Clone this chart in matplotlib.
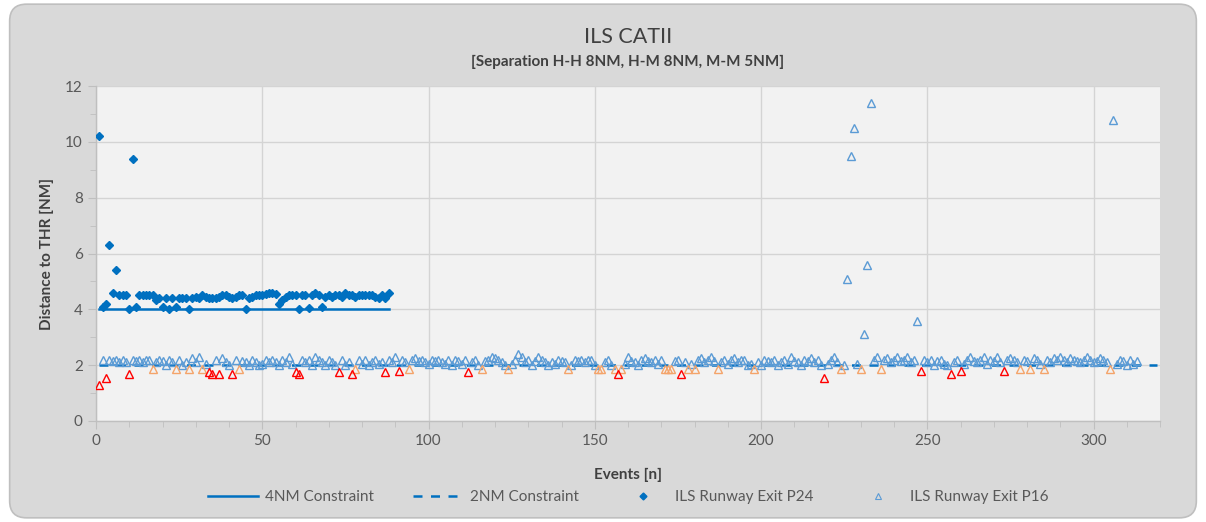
import matplotlib
matplotlib.use('Agg')
import matplotlib.pyplot as plt
from matplotlib.patches import FancyBboxPatch
from matplotlib.lines import Line2D
from matplotlib.ticker import MultipleLocator

plt.rcParams['font.family'] = ['Lato', 'DejaVu Sans']

# ILS Runway Exit P24 (events 1..88)
p24 = [10.2, 4.1, 4.2, 6.3, 4.6, 5.4, 4.5, 4.5, 4.5, 4.0,
       9.4, 4.1, 4.5, 4.5, 4.5, 4.5, 4.5, 4.35, 4.4, 4.1,
       4.4, 4.0, 4.4, 4.1, 4.4, 4.4, 4.4, 4.0, 4.4, 4.45,
       4.4, 4.5, 4.45, 4.4, 4.4, 4.4, 4.45, 4.5, 4.5, 4.45,
       4.4, 4.45, 4.5, 4.5, 4.0, 4.4, 4.45, 4.5, 4.5, 4.5,
       4.55, 4.6, 4.6, 4.55, 4.2, 4.35, 4.45, 4.5, 4.5, 4.5,
       4.0, 4.5, 4.5, 4.05, 4.5, 4.6, 4.5, 4.1, 4.45, 4.5,
       4.45, 4.5, 4.5, 4.45, 4.6, 4.5, 4.5, 4.45, 4.5, 4.5,
       4.5, 4.5, 4.5, 4.45, 4.4, 4.5, 4.4, 4.6]

# ILS Runway Exit P16 (events 1..313)
p16 = [1.3, 2.2, 1.55, 2.2, 2.15, 2.2, 2.1, 2.2, 2.1, 1.7,
       2.2, 2.15, 2.2, 2.1, 2.2, 2.2, 1.88, 2.1, 2.2, 2.15,
       2.0, 2.2, 2.1, 1.88, 2.2, 2.0, 2.1, 1.88, 2.25, 2.1,
       2.3, 1.88, 2.05, 1.75, 1.7, 2.2, 1.7, 2.25, 2.1, 2.0,
       1.7, 2.2, 1.88, 2.15, 2.1, 2.0, 2.2, 2.1, 2.0, 2.05,
       2.2, 2.1, 2.2, 2.1, 2.0, 2.2, 2.1, 2.3, 2.05, 1.75,
       1.7, 2.2, 2.1, 2.2, 2.0, 2.3, 2.2, 2.1, 2.0, 2.2,
       2.1, 2.0, 1.75, 2.2, 2.0, 2.1, 1.7, 1.88, 2.2, 2.05,
       2.2, 2.0, 2.1, 2.2, 2.05, 2.1, 1.75, 2.2, 2.1, 2.3,
       1.8, 2.2, 2.1, 1.88, 2.2, 2.25, 2.15, 2.2, 2.1, 2.05,
       2.2, 2.15, 2.2, 2.1, 2.05, 2.2, 2.0, 2.2, 2.15, 2.05,
       2.2, 1.75, 2.1, 2.2, 2.0, 1.88, 2.15, 2.2, 2.3, 2.25,
       2.2, 2.1, 2.0, 1.88, 2.05, 2.2, 2.4, 2.3, 2.1, 2.2,
       2.0, 2.15, 2.3, 2.2, 2.1, 2.0, 2.1, 2.05, 2.2, 2.15,
       2.1, 1.88, 2.0, 2.2, 2.15, 2.2, 2.1, 2.2, 2.2, 2.0,
       1.88, 1.88, 2.1, 2.2, 2.0, 1.88, 1.7, 1.88, 2.05, 2.3,
       2.15, 2.1, 2.0, 2.2, 2.25, 2.15, 2.1, 2.2, 2.05, 2.2,
       1.88, 1.88, 1.88, 2.15, 2.2, 1.7, 2.1, 1.88, 2.05, 1.88,
       2.2, 2.25, 2.1, 2.2, 2.3, 2.15, 1.88, 2.1, 2.2, 2.05,
       2.2, 2.25, 2.1, 2.2, 2.2, 2.0, 2.05, 1.88, 2.1, 2.0,
       2.2, 2.15, 2.1, 2.2, 2.0, 2.1, 2.2, 2.05, 2.3, 2.15,
       2.1, 2.0, 2.2, 2.15, 2.25, 2.1, 2.2, 2.0, 1.55, 2.05,
       2.2, 2.3, 2.1, 1.88, 2.0, 5.1, 9.5, 10.5, 2.05, 1.88,
       3.1, 5.6, 11.4, 2.2, 2.3, 1.88, 2.2, 2.25, 2.1, 2.2,
       2.3, 2.15, 2.2, 2.3, 2.1, 2.2, 3.6, 1.8, 2.2, 2.1,
       2.2, 2.0, 2.15, 2.2, 2.05, 2.0, 1.7, 2.1, 2.2, 1.8,
       2.05, 2.2, 2.3, 2.15, 2.1, 2.2, 2.3, 2.05, 2.2, 2.15,
       2.3, 2.1, 1.8, 2.2, 2.25, 2.2, 2.1, 1.88, 2.2, 2.15,
       1.88, 2.25, 2.2, 2.05, 1.88, 2.2, 2.1, 2.25, 2.2, 2.3,
       2.2, 2.1, 2.25, 2.2, 2.15, 2.1, 2.2, 2.3, 2.2, 2.1,
       2.15, 2.25, 2.2, 2.1, 1.88, 10.8, 2.05, 2.2, 2.15, 2.0,
       2.2, 2.05, 2.15]

con4_events = [1, len(p24)]
con4_value = 4
con2_events = [1, 319]
con2_value = 2

x24 = list(range(1, len(p24) + 1))
x16 = list(range(1, len(p16) + 1))

# P16 points are coloured by how far below the 2NM constraint they are
RedLim = 1.85
OrangeLim = 1.95
Blue = ([x for x, v in zip(x16, p16) if v >= OrangeLim], [v for v in p16 if v >= OrangeLim])
Orange = ([x for x, v in zip(x16, p16) if RedLim <= v < OrangeLim], [v for v in p16 if RedLim <= v < OrangeLim])
Red = ([x for x, v in zip(x16, p16) if v < RedLim], [v for v in p16 if v < RedLim])

LineBlue = '#0070C0'
TriBlue = '#5B9BD5'

Fig = plt.figure(figsize=(12.06, 5.22), dpi=100, facecolor='white')
Bg = FancyBboxPatch((0.008, 0.008), 0.984, 0.984, boxstyle='round,pad=0,rounding_size=0.014',
                    transform=Fig.transFigure, facecolor='#D9D9D9', edgecolor='#BFBFBF', lw=1.2,
                    mutation_aspect=1206 / 522, zorder=-10)
Fig.add_artist(Bg)

Ax = Fig.add_axes([96 / 1206, 1 - 421 / 522, (1160 - 96) / 1206, (421 - 86) / 522])
Ax.set_zorder(1)
Ax.set_facecolor('#F2F2F2')

Ax.plot(con4_events, [con4_value] * 2, color=LineBlue, lw=1.8, zorder=3)
Ax.plot(con2_events, [con2_value] * 2, color=LineBlue, lw=1.8, dashes=(3.6, 3.4), zorder=3)
Ax.plot(x24, p24, ls='none', marker='D', ms=4.0, color=LineBlue, zorder=4)
Ax.plot(Blue[0], Blue[1], ls='none', marker='^', ms=6, mfc='none', mec=TriBlue, mew=1.0, zorder=4)
Ax.plot(Orange[0], Orange[1], ls='none', marker='^', ms=6, mfc='none', mec='#F4A46A', mew=1.0, zorder=4)
Ax.plot(Red[0], Red[1], ls='none', marker='^', ms=6, mfc='none', mec='#FF0000', mew=1.0, zorder=4)

Ax.set_xlim(0, 320)
Ax.set_ylim(0, 12)
Ax.xaxis.set_major_locator(MultipleLocator(50))
Ax.xaxis.set_minor_locator(MultipleLocator(10))
Ax.yaxis.set_major_locator(MultipleLocator(2))
Ax.yaxis.set_minor_locator(MultipleLocator(1))
Ax.grid(True, which='major', color='#D4D4D4', lw=1.0, zorder=0)
Ax.set_axisbelow(True)
for S in ['top', 'right']:
    Ax.spines[S].set_visible(False)
for S in ['left', 'bottom']:
    Ax.spines[S].set_color('#BFBFBF')
    Ax.spines[S].set_linewidth(1.0)
Ax.tick_params(which='major', direction='out', length=6, color='#BFBFBF', labelsize=11, labelcolor='#595959')
Ax.tick_params(which='minor', direction='out', length=4, color='#BFBFBF')

Ax.set_xlabel('Events [n]', fontsize=11, fontweight='bold', color='#404040', labelpad=14)
Ax.set_ylabel('Distance to THR [NM]', fontsize=11, fontweight='bold', color='#404040', labelpad=8)

Fig.text(628 / 1206, 1 - 37 / 522, 'ILS CATII', ha='center', va='center', fontsize=15.5, color='#404040')
Fig.text(628 / 1206, 1 - 62 / 522, '[Separation H-H 8NM, H-M 8NM, M-M 5NM]', ha='center', va='center',
         fontsize=11, fontweight='bold', color='#404040')

Handles = [Line2D([], [], color=LineBlue, lw=1.8),
           Line2D([], [], color=LineBlue, lw=1.8, dashes=(3.6, 3.4)),
           Line2D([], [], ls='none', marker='D', ms=3.5, color=LineBlue),
           Line2D([], [], ls='none', marker='^', ms=4.5, mfc='none', mec=TriBlue, mew=0.8)]
Labels = ['4NM Constraint', '2NM Constraint', 'ILS Runway Exit P24', 'ILS Runway Exit P16']
Ax.legend(Handles, Labels, loc='center', bbox_to_anchor=(0.5, -(497 - 421) / 335), ncol=4, frameon=False,
          fontsize=11, handlelength=3.3, handletextpad=0.4, columnspacing=2.6, labelcolor='#595959')

Fig.savefig('out.png', dpi=100, facecolor='white')
